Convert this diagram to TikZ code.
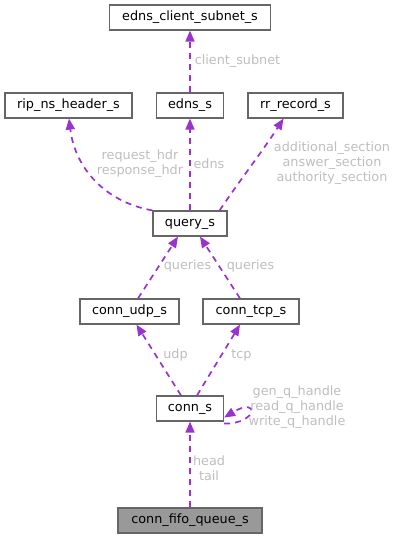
\documentclass[tikz,border=0pt]{standalone}
\usepackage{fontspec}
\setmainfont{DejaVu Sans}
\usetikzlibrary{arrows.meta}
\definecolor{edgecol}{HTML}{9A32CD}
\definecolor{boxline}{HTML}{666666}
\definecolor{rootfill}{HTML}{999999}
\definecolor{labelcol}{HTML}{BEBEBE}
\begin{document}
\begin{tikzpicture}[x=1pt,y=-1pt,
  every node/.style={font=\fontsize{12.8}{15}\selectfont},
  structbox/.style={draw=boxline,line width=1.2pt,fill=white,rectangle,
    minimum height=25pt,inner sep=0pt,text height=9.5pt,text depth=2.8pt},
  rootbox/.style={structbox,fill=rootfill},
  member/.style={draw=edgecol,line width=1.7pt,dash pattern=on 6pt off 5pt,
    -{Triangle[length=11pt,width=9pt]}},
  memlabel/.style={text=labelcol,align=center,inner sep=0pt}]
\useasboundingbox (0,0) rectangle (398,539);

% struct boxes
\node[structbox,minimum width=161pt] (ecs)   at (190,17.5)    {edns\_client\_subnet\_s};
\node[structbox,minimum width=127pt] (rip)   at (68.5,105.5)  {rip\_ns\_header\_s};
\node[structbox,minimum width=67pt]  (edns)  at (190,105.5)   {edns\_s};
\node[structbox,minimum width=95pt]  (rr)    at (295.5,105.5) {rr\_record\_s};
\node[structbox,minimum width=74pt]  (query) at (190,223.5)   {query\_s};
\node[structbox,minimum width=99pt]  (udp)   at (129.5,311.5) {conn\_udp\_s};
\node[structbox,minimum width=96pt]  (tcp)   at (251,311.5)   {conn\_tcp\_s};
\node[structbox,minimum width=67pt]  (conn)  at (190,408.5)   {conn\_s};
\node[rootbox,minimum width=144pt]   (fifo)  at (190,520.5)   {conn\_fifo\_queue\_s};

% member references
\draw[member] (edns.north) -- (ecs.south);
\draw[member] (query.north west) .. controls (105,202) and (75,168) .. ([xshift=0.5pt]rip.south);
\draw[member] (query.north) -- (edns.south);
\draw[member] ([xshift=-8pt]query.north east) .. controls (240,180) and (262,152) .. ([xshift=-12pt]rr.south);
\draw[member] ([xshift=8.5pt]udp.north) -- ([xshift=-12pt]query.south);
\draw[member] ([xshift=-11pt]tcp.north) -- ([xshift=10pt]query.south);
\draw[member] ([xshift=-9pt]conn.north) -- ([xshift=7pt]udp.south);
\draw[member] ([xshift=7pt]conn.north) -- ([xshift=-11pt]tcp.south);
\draw[member] ([yshift=-2pt]conn.south east) .. controls (258,424) and (260,396) .. ([yshift=-9pt]conn.east);
\draw[member] (fifo.north) -- (conn.south);

% member names
\node[memlabel] (lcs)    at (237.5,61)  {client\_subnet};
\node[memlabel] (lhdr)   at (140,164)   {request\_hdr\\response\_hdr};
\node[memlabel] (ledns)  at (209,164)   {edns};
\node[memlabel] (lsect)  at (332,163)   {additional\_section\\answer\_section\\authority\_section};
\node[memlabel] (lqudp)  at (187.5,266) {queries};
\node[memlabel] (lqtcp)  at (250.5,266) {queries};
\node[memlabel] (ludp)   at (175.5,355) {udp};
\node[memlabel] (ltcp)   at (241.5,355) {tcp};
\node[memlabel] (lhand)  at (297,407.5) {gen\_q\_handle\\read\_q\_handle\\write\_q\_handle};
\node[memlabel] (lqueue) at (209,468.5) {head\\tail};
\end{tikzpicture}
\end{document}
